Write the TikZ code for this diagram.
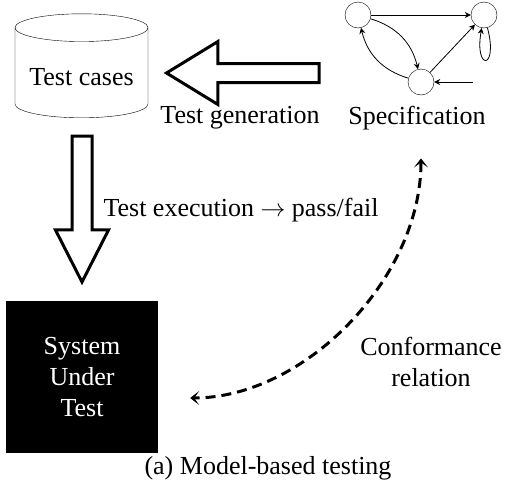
\documentclass[tikz,border=0pt]{standalone}
\usepackage{fontspec}
\setmainfont{Liberation Serif}
\usetikzlibrary{arrows.meta, shapes.geometric, shapes.arrows, positioning}

\begin{document}
\begin{tikzpicture}[x=1pt, y=1pt, font=\fontsize{26}{31}\selectfont,
    fatarrow/.style={single arrow, draw, line width=3pt, single arrow head indent=0pt},
    specstate/.style={circle, draw, minimum size=26pt, inner sep=0pt},
    specedge/.style={-{Stealth[length=6pt, width=6pt, inset=2pt]}, line width=0.8pt}]

    \useasboundingbox (0,0) rectangle (509,-496);

    \node[cylinder, shape border rotate=90, draw, aspect=0.25, minimum width=133pt, minimum height=104pt, text height=21pt, text depth=0pt] (cases) at (81.5,-75) {Test cases};
    \node[fatarrow, anchor=tail, shape border rotate=180, inner sep=8pt, minimum height=152.5pt, single arrow tip angle=63, single arrow head extend=22pt] (gen) at (320.5,-73) {};
    \node[fatarrow, anchor=tail, shape border rotate=270, inner sep=8.5pt, minimum height=146pt, single arrow tip angle=54, single arrow head extend=16.5pt] (exec) at (82,-134.5) {};
    \node[fill=black, text=white, minimum size=152pt, align=center] (sut) at (82,-377) {System\\Under\\Test};

    % specification automaton
    \node[specstate] (s1) at (358,-15) {};
    \node[specstate] (s2) at (484,-15) {};
    \node[specstate] (s3) at (421,-82) {};
    \coordinate[right=39pt of s3] (s0);
    \path[specedge]
    (s1) edge (s2)
    (s1) edge[bend left] (s3)
    (s3) edge[bend left] (s1)
    (s3) edge (s2)
    (s2) edge[out=-75, in=-100, distance=44pt] (s2)
    (s0) edge (s3);

    \node (genlabel) at (240,-118) {Test generation};
    \node (spec) at (417,-118) {Specification};
    \node[anchor=west] (execlabel) at (100,-210) {Test execution $\rightarrow$ pass/fail};
    \node[align=center] (conf) at (431,-362) {Conformance\\relation};
    \node (caption) at (268,-468) {(a) Model-based testing};

    \draw[{Stealth[length=9pt, width=14pt, inset=5pt]}-{Stealth[length=9pt, width=14pt, inset=5pt]}, line width=3pt, dash pattern=on 10pt off 6pt, shorten <=25pt, shorten >=32pt]
    ([xshift=4pt]spec.south) to[out=-90, in=0] ([yshift=-21pt]sut.east);

\end{tikzpicture}
\end{document}
